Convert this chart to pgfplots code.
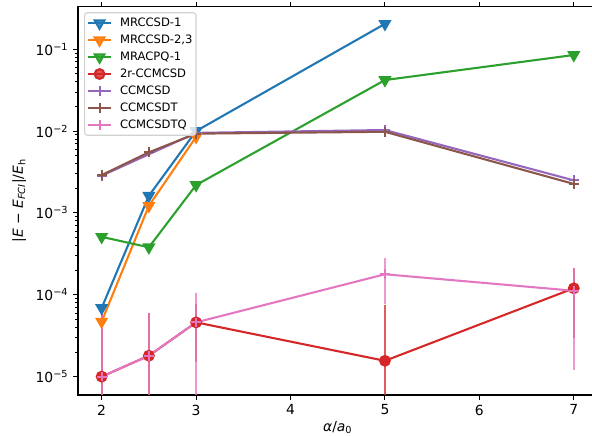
\documentclass[border=0pt]{standalone}
\usepackage{fontspec}
\setmainfont{DejaVu Sans}
\usepackage{pgfplots}
\pgfplotsset{compat=1.18}
\usetikzlibrary{calc}
\definecolor{c1}{HTML}{1F77B4}
\definecolor{c2}{HTML}{FF7F0E}
\definecolor{c3}{HTML}{2CA02C}
\definecolor{c4}{HTML}{D62728}
\definecolor{c5}{HTML}{9467BD}
\definecolor{c6}{HTML}{8C564B}
\definecolor{c7}{HTML}{E377C2}
\begin{document}
\begin{tikzpicture}
\begin{axis}[name=ax, scale only axis, width=374pt, height=279.6pt,
  xmin=1.75, xmax=7.25, ymode=log, ymin=5.97e-6, ymax=0.331,
  xtick={2,3,4,5,6,7},
  ytick={1e-5,1e-4,1e-3,1e-2,1e-1},
  yticklabels={10\textsuperscript{−5},10\textsuperscript{−4},10\textsuperscript{−3},10\textsuperscript{−2},10\textsuperscript{−1}},
  /pgf/number format/assume math mode=true,
  tick align=outside, major tick length=3.5pt, minor tick length=2pt,
  every major tick/.append style={black, line width=0.8pt},
  every minor tick/.append style={black, line width=0.6pt},
  axis line style={line width=0.8pt},
  tick label style={font=\fontsize{10}{12}\selectfont},
  label style={font=\fontsize{10}{12}\selectfont},
  xlabel={\textit{α}/\textit{a}\textsubscript{0}},
  xlabel style={yshift=2.5pt},
  ylabel={|\textit{E} − \textit{E}\textsubscript{\textit{FCI}}|/\textit{E}\textsubscript{h}},
  legend style={at={(0,1)}, anchor=north west, xshift=4.3pt, yshift=-4pt,
    draw=black!18, line width=0.8pt, rounded corners=2pt, fill=white, fill opacity=0.8, text opacity=1,
    font=\fontsize{8.33}{10}\selectfont,
    nodes={inner sep=1pt, text height=6.3pt, text depth=1.7pt}, row sep=2.2pt, inner xsep=1.5pt, inner ysep=2.5pt,
    /tikz/every odd column/.append style={column sep=4.5pt}},
  legend cell align=left,
]
\addplot[c1, line width=1.5pt, mark=triangle*, mark size=4pt, mark options={rotate=180, fill=c1, draw=c1}]
  coordinates {(2,6.9e-5) (2.5,1.62e-3) (3,1.0e-2) (5,0.204)};
\addlegendentry{MRCCSD-1}
\addplot[c2, line width=1.5pt, mark=triangle*, mark size=4pt, mark options={rotate=180, fill=c2, draw=c2}]
  coordinates {(2,4.7e-5) (2.5,1.22e-3) (3,8.5e-3)};
\addlegendentry{MRCCSD-2,3}
\addplot[c3, line width=1.5pt, mark=triangle*, mark size=4pt, mark options={rotate=180, fill=c3, draw=c3}]
  coordinates {(2,5.1e-4) (2.5,3.8e-4) (3,2.19e-3) (5,4.2e-2) (7,8.5e-2)};
\addlegendentry{MRACPQ-1}
\addplot[c4, line width=1.5pt, mark=*, mark size=3.5pt, mark options={fill=c4, draw=c4},
  error bars/.cd, y dir=both, y explicit, error mark=none,
  error bar style={line width=1.5pt, c4, opacity=0.75}]
  table[x=x, y=y, y error plus=ep, y error minus=em] {
x y ep em
2 1.0e-5 6.1e-5 0.99e-5
2.5 1.8e-5 4.2e-5 1.78e-5
3 4.6e-5 3.1e-5 3.1e-5
5 1.56e-5 6.0e-5 1.54e-5
7 1.2e-4 9.0e-5 9.0e-5
};
\addlegendentry{2r-CCMCSD}
\addplot[c5, line width=1.5pt, mark=+, mark size=3.5pt, mark options={draw=c5}]
  coordinates {(2,2.85e-3) (3,9.5e-3) (5,1.03e-2) (7,2.5e-3)};
\addlegendentry{CCMCSD}
\addplot[c6, line width=1.5pt, mark=+, mark size=3.5pt, mark options={draw=c6}]
  coordinates {(2,2.9e-3) (2.5,5.5e-3) (3,9.3e-3) (5,9.8e-3) (7,2.26e-3)};
\addlegendentry{CCMCSDT}
\addplot[c7, line width=1.5pt, mark=+, mark size=3.5pt, mark options={draw=c7},
  error bars/.cd, y dir=both, y explicit, error mark=none,
  error bar style={line width=1.5pt, c7, opacity=0.75}]
  table[x=x, y=y, y error plus=ep, y error minus=em] {
x y ep em
2 1.0e-5 6.1e-5 0.99e-5
2.5 1.8e-5 4.2e-5 1.78e-5
3 4.6e-5 6.0e-5 4.55e-5
5 1.78e-4 1.0e-4 1.0e-4
7 1.12e-4 1.0e-4 1.0e-4
};
\addlegendentry{CCMCSDTQ}
\end{axis}
\pgfresetboundingbox
\path[use as bounding box] ($(ax.south west)+(-56.2pt,-29.5pt)$) rectangle ($(ax.south west)+(370.1pt,284.4pt)$);
\end{tikzpicture}
\end{document}
